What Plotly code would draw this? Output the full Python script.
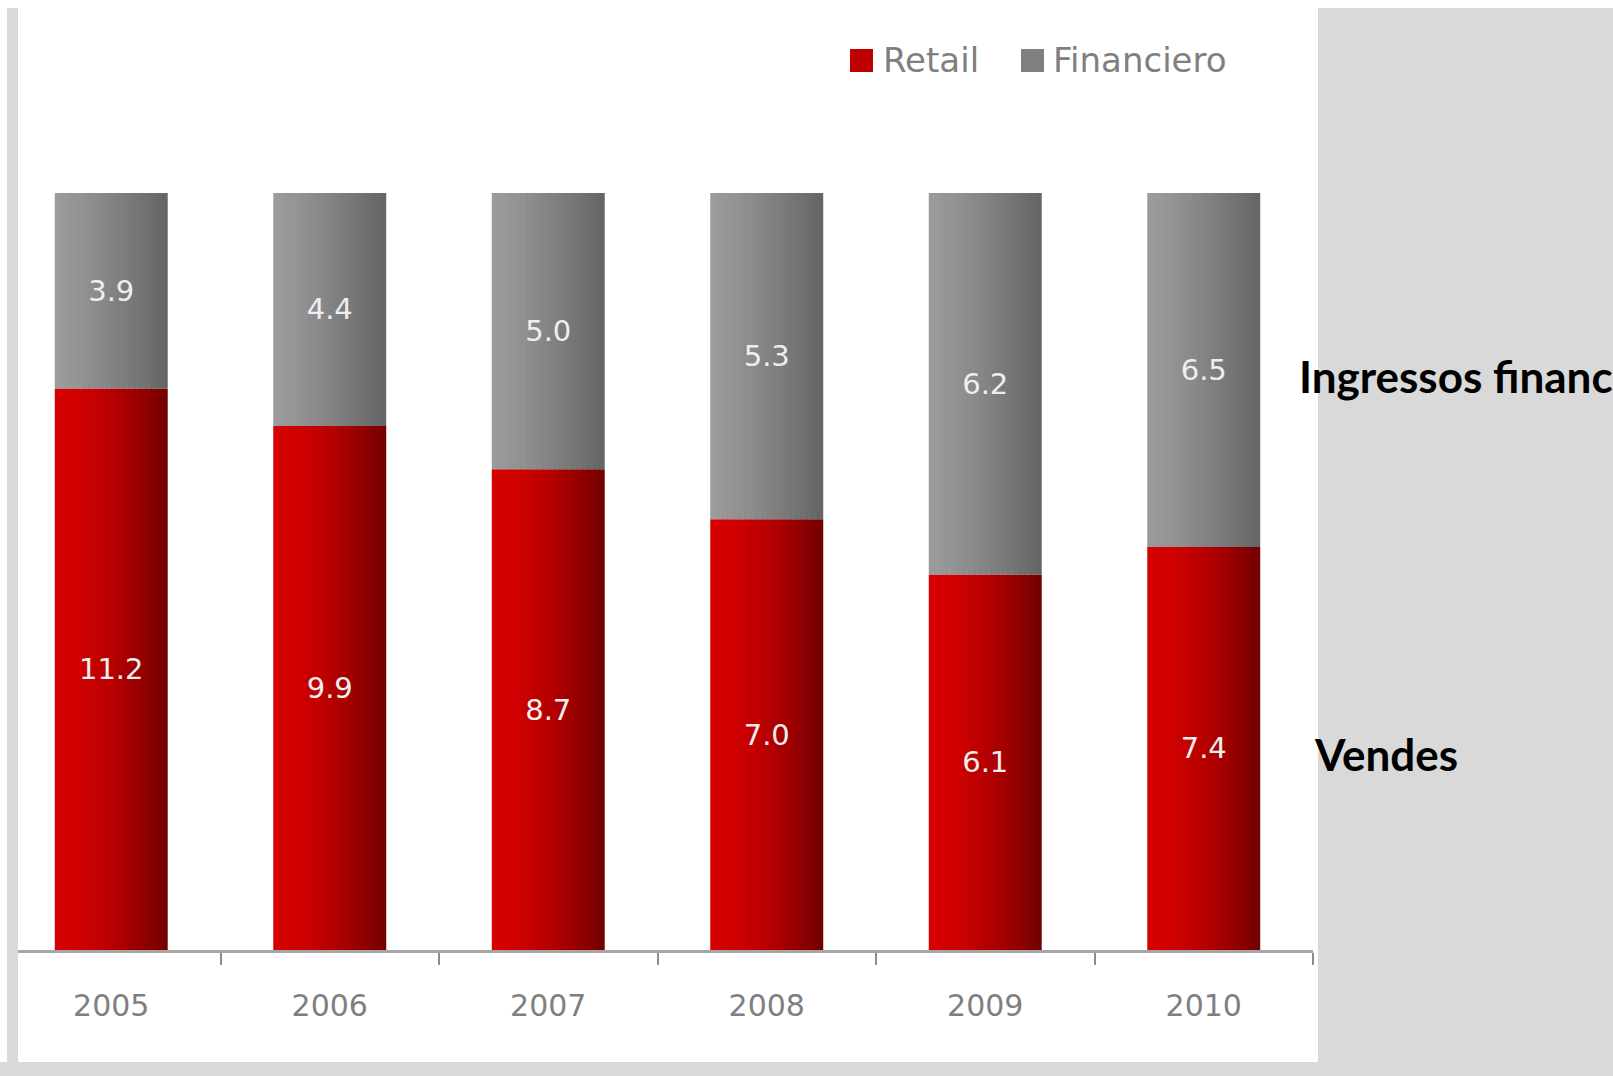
import plotly.graph_objects as go

# ---- data ----
years = ["2005", "2006", "2007", "2008", "2009", "2010"]
retail = [11.2, 9.9, 8.7, 7.0, 6.1, 7.4]
financiero = [3.9, 4.4, 5.0, 5.3, 6.2, 6.5]
series_names = ["Retail", "Financiero"]
side_labels = ["Ingressos financers", "Vendes"]

W, H = 1613, 1076


def px(x):
    return x / W


def py(y):
    return 1 - y / H


totals = [r + f for r, f in zip(retail, financiero)]
retail_pct = [100 * r / t for r, t in zip(retail, totals)]
fin_pct = [100 * f / t for f, t in zip(financiero, totals)]

BAR_W = 0.517
N = 20

red_l, red_r = (214, 0, 0), (112, 0, 0)
gray_l, gray_r = (156, 156, 156), (100, 100, 100)


def mix(c1, c2, t):
    return "rgb(%d,%d,%d)" % tuple(round(a + (b - a) * t) for a, b in zip(c1, c2))


fig = go.Figure()

# gradient made of thin vertical strips of each bar
for i in range(N):
    t = (i + 0.5) / N
    tt = t ** 1.7
    off = -BAR_W / 2 + i * BAR_W / N
    wid = BAR_W / N * (1.15 if i < N - 1 else 1.0)
    fig.add_bar(x=years, y=retail_pct, base=0, offset=off, width=wid,
                marker=dict(color=mix(red_l, red_r, tt), line=dict(width=0)),
                showlegend=False, hoverinfo="skip")
    fig.add_bar(x=years, y=fin_pct, base=retail_pct, offset=off, width=wid,
                marker=dict(color=mix(gray_l, gray_r, t ** 1.2), line=dict(width=0)),
                showlegend=False, hoverinfo="skip")

label_font = dict(family="DejaVu Sans", size=29, color="#eeeeee")
fig.add_bar(x=years, y=retail_pct, base=0, offset=-BAR_W / 2, width=BAR_W,
            marker=dict(color="rgba(0,0,0,0)", line=dict(width=0)),
            text=[f"{v:.1f}" for v in retail], textposition="inside",
            insidetextanchor="middle", constraintext="none",
            textfont=label_font, name=series_names[0], showlegend=False)
fig.add_bar(x=years, y=fin_pct, base=retail_pct, offset=-BAR_W / 2, width=BAR_W,
            marker=dict(color="rgba(0,0,0,0)", line=dict(width=0)),
            text=[f"{v:.1f}" for v in financiero], textposition="inside",
            insidetextanchor="middle", constraintext="none",
            textfont=label_font, name=series_names[1], showlegend=False)

shapes = [
    # right grey panel
    dict(type="rect", xref="paper", yref="paper", x0=px(1318), x1=1, y0=0, y1=py(8),
         fillcolor="#d9d9d9", line=dict(width=0), layer="below"),
    # white margin left of the frame (hides axis stub)
    dict(type="rect", xref="paper", yref="paper", x0=0, x1=px(7), y0=py(1062), y1=py(900),
         fillcolor="white", line=dict(width=0), layer="above"),
    # bottom strip
    dict(type="rect", xref="paper", yref="paper", x0=0, x1=px(1318), y0=0, y1=py(1062),
         fillcolor="#d9d9d9", line=dict(width=0), layer="above"),
    # left strip
    dict(type="rect", xref="paper", yref="paper", x0=px(7), x1=px(18), y0=py(1062), y1=py(8),
         fillcolor="#d9d9d9", line=dict(width=0), layer="above"),
    # legend keys
    dict(type="rect", xref="paper", yref="paper", x0=px(850), x1=px(873), y0=py(72), y1=py(49),
         fillcolor="#c00000", line=dict(width=0)),
    dict(type="rect", xref="paper", yref="paper", x0=px(1021), x1=px(1044), y0=py(72), y1=py(49),
         fillcolor="#7f7f7f", line=dict(width=0)),
]

legend_font = dict(family="DejaVu Sans", size=34, color="#7f7f7f")
side_font = dict(family="Lato", size=44, color="#000000")
annotations = [
    dict(text=series_names[0], x=px(881), y=py(60), xref="paper", yref="paper",
         xanchor="left", yanchor="middle", showarrow=False, font=legend_font),
    dict(text=series_names[1], x=px(1051), y=py(60), xref="paper", yref="paper",
         xanchor="left", yanchor="middle", showarrow=False, font=legend_font),
    dict(text="<b>%s</b>" % side_labels[0], x=px(1297), y=py(376), xref="paper", yref="paper",
         xanchor="left", yanchor="middle", showarrow=False, font=side_font),
    dict(text="<b>%s</b>" % side_labels[1], x=px(1312), y=py(754), xref="paper", yref="paper",
         xanchor="left", yanchor="middle", showarrow=False, font=side_font),
]

fig.update_layout(
    width=W, height=H,
    margin=dict(l=0, r=0, t=0, b=0),
    paper_bgcolor="white", plot_bgcolor="rgba(0,0,0,0)",
    barmode="overlay",
    showlegend=False,
    shapes=shapes,
    annotations=annotations,
    xaxis=dict(
        type="category", domain=[px(2), px(1313)], range=[-0.5, 5.5],
        showline=True, linecolor="#a6a6a6", linewidth=3,
        ticks="outside", tickson="boundaries", ticklen=12, tickwidth=2, tickcolor="#8c8c8c",
        tickfont=dict(family="DejaVu Sans", size=30, color="#7f7f7f"),
        ticklabelstandoff=27,
        showgrid=False, zeroline=False, fixedrange=True,
    ),
    yaxis=dict(
        domain=[py(950), py(193)], range=[0, 100], visible=False, fixedrange=True,
    ),
)

fig.write_html("out.html")
